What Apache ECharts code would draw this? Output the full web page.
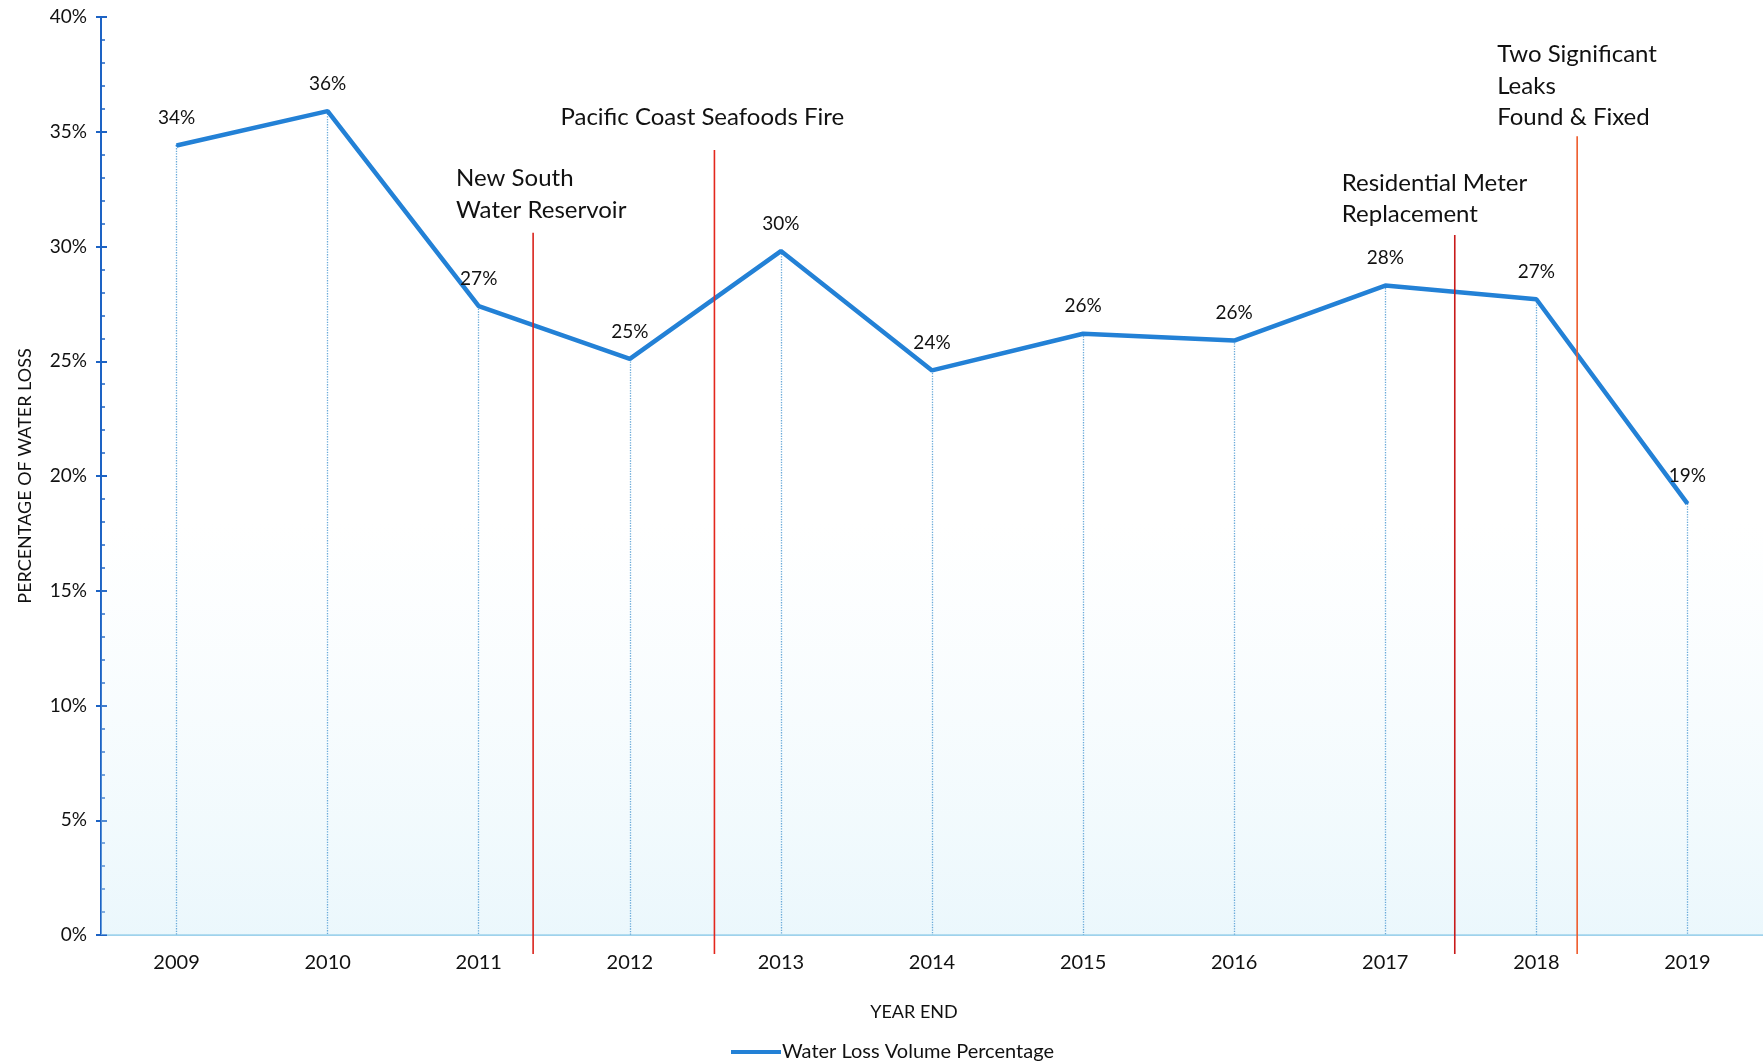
<!DOCTYPE html>
<html>
<head>
<meta charset="utf-8">
<script src="https://cdn.jsdelivr.net/npm/echarts@6/dist/echarts.min.js"></script>
<style>
html,body{margin:0;padding:0;background:#fff;}
#chart{width:1763px;height:1064px;}
</style>
</head>
<body>
<div id="chart"></div>
<script>
// ---- data ----
var years = ['2009','2010','2011','2012','2013','2014','2015','2016','2017','2018','2019'];
var waterLoss = [34.4, 35.9, 27.4, 25.1, 29.8, 24.6, 26.2, 25.9, 28.3, 27.7, 18.8];
var pointLabels = ['34%','36%','27%','25%','30%','24%','26%','26%','28%','27%','19%'];
var yTicks = [0, 5, 10, 15, 20, 25, 30, 35, 40];
var eventNames = ['New South\nWater Reservoir', 'Pacific Coast Seafoods Fire', 'Residential Meter\nReplacement', 'Two Significant\nLeaks\nFound & Fixed'];
var eventPosition = [2.36, 3.56, 8.46, 9.27];   // position along the year axis (category index)
var eventLineTop = [30.6, 34.2, 30.5, 34.8];    // value where each event marker starts
var seriesName = 'Water Loss Volume Percentage';

// ---- styling (not data) ----
var FONT = 'Lato';
var eventStyle = [
  {dx: -77, dy: 7, color: '#d9231c'},
  {dx: -154, dy: 17, color: '#e3271d'},
  {dx: -113, dy: 5, color: '#c81a1a'},
  {dx: -80, dy: 3, color: '#ee5a2a'}
];

var chart = echarts.init(document.getElementById('chart'));

var dropLines = waterLoss.map(function (v, i) {
  return [{coord: [years[i], v]}, {coord: [years[i], 0]}];
});

var eventData = eventPosition.map(function (p, i) { return [p, eventLineTop[i]]; });

var yMin = yTicks[0], yMax = yTicks[yTicks.length - 1], yInt = yTicks[1] - yTicks[0];

var option = {
  backgroundColor: '#ffffff',
  animation: false,
  textStyle: {fontFamily: FONT},
  grid: {left: 101, right: 0, top: 17, bottom: 129},
  legend: {
    data: [seriesName],
    left: 726, top: 1037,
    itemWidth: 50, itemHeight: 14,
    textStyle: {fontFamily: FONT, fontSize: 20, color: '#111111', padding: [0, 0, 0, -4]},
    icon: 'path://M0,5.5 L50,5.5 L50,9.5 L0,9.5 Z'
  },
  xAxis: [{
    type: 'category',
    data: years,
    boundaryGap: true,
    name: 'YEAR END',
    nameLocation: 'middle',
    nameGap: 68,
    nameTextStyle: {fontFamily: FONT, fontSize: 18, color: '#111111', padding: [0, 36, 0, 0]},
    axisLine: {show: true, onZero: false, lineStyle: {color: '#9fd2ec', width: 2}},
    axisTick: {show: false},
    axisLabel: {fontFamily: FONT, fontSize: 20, color: '#111111', margin: 18},
    splitLine: {show: false}
  }, {
    type: 'value',
    min: -0.5, max: 10.5,
    position: 'top',
    show: false
  }],
  yAxis: [{
    type: 'value',
    min: yMin, max: yMax, interval: yInt,
    name: 'PERCENTAGE OF WATER LOSS',
    nameLocation: 'middle',
    nameGap: 67,
    nameTextStyle: {fontFamily: FONT, fontSize: 18, color: '#111111'},
    axisLine: {show: true, onZero: false, lineStyle: {color: '#1d63c4', width: 2}},
    axisTick: {show: true, length: 5, lineStyle: {color: '#1d63c4', width: 2}},
    axisLabel: {fontFamily: FONT, fontSize: 19, color: '#111111', margin: 14, formatter: '{value}%'},
    splitLine: {show: false}
  }, {
    type: 'value',
    min: yMin, max: yMax, interval: yInt,
    position: 'left',
    axisLine: {show: false, onZero: false},
    axisLabel: {show: false},
    axisTick: {show: true, inside: true, length: 6, lineStyle: {color: '#1d63c4', width: 2}},
    minorTick: {show: true, splitNumber: 5, length: 4, lineStyle: {color: '#1d63c4', width: 1.5}},
    splitLine: {show: false}
  }],
  series: [{
    name: seriesName,
    type: 'line',
    data: waterLoss,
    symbol: 'circle',
    symbolSize: 2,
    z: 5,
    lineStyle: {color: '#2381d6', width: 4.5},
    itemStyle: {color: '#2381d6'},
    label: {
      show: true,
      position: 'top',
      distance: 17,
      fontFamily: FONT,
      fontSize: 19,
      color: '#111111',
      formatter: function (p) { return pointLabels[p.dataIndex]; }
    },
    markLine: {
      silent: true,
      symbol: ['none', 'none'],
      label: {show: false},
      lineStyle: {color: '#6aaad9', type: 'dotted', width: 1.3},
      data: dropLines
    },
    markArea: {
      silent: true,
      itemStyle: {
        color: {
          type: 'linear', x: 0, y: 0, x2: 0, y2: 1,
          colorStops: [{offset: 0, color: 'rgba(220,242,250,0)'}, {offset: 1, color: 'rgba(205,236,248,0.4)'}]
        }
      },
      data: [[{yAxis: 0}, {yAxis: 18}]]
    }
  }, {
    type: 'custom',
    xAxisIndex: 1,
    yAxisIndex: 0,
    silent: true,
    z: 6,
    data: eventData,
    renderItem: function (params, api) {
      var i = params.dataIndex;
      var st = eventStyle[i];
      var top = api.coord([api.value(0), api.value(1)]);
      var base = api.coord([api.value(0), 0]);
      return {
        type: 'group',
        children: [{
          type: 'line',
          shape: {x1: top[0], y1: top[1], x2: base[0], y2: base[1] + 19},
          style: {stroke: st.color, lineWidth: 1.6}
        }, {
          type: 'text',
          x: top[0] + st.dx,
          y: top[1] - st.dy,
          style: {
            text: eventNames[i],
            fontFamily: FONT,
            fontSize: 24,
            lineHeight: 31.5,
            fill: '#111111',
            align: 'left',
            verticalAlign: 'bottom'
          }
        }]
      };
    }
  }]
};

chart.setOption(option);
</script>
</body>
</html>
